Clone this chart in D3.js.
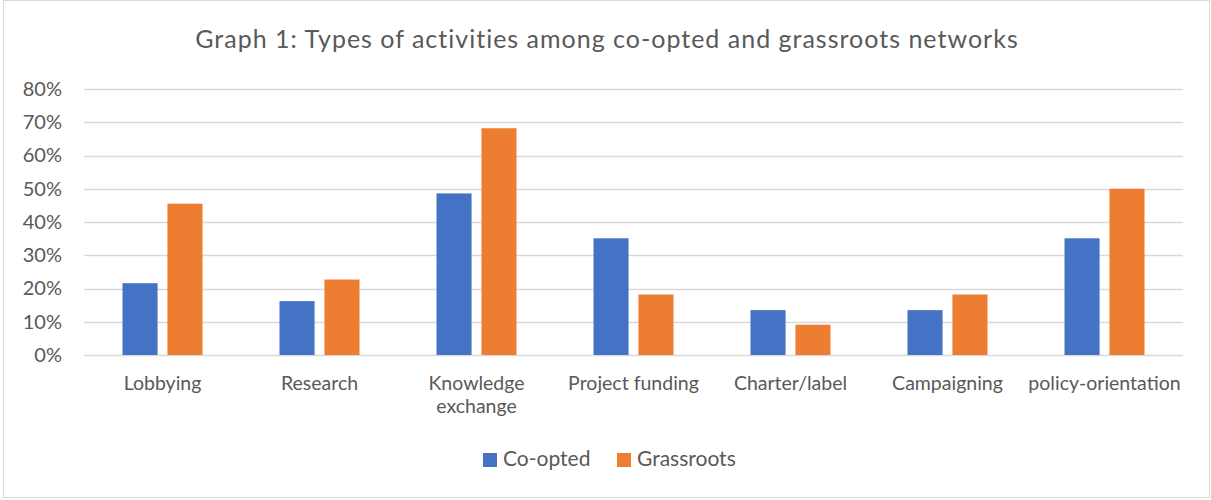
<!DOCTYPE html>
<html>
<head>
<meta charset="utf-8">
<script src="https://cdn.jsdelivr.net/npm/d3@7"></script>
<style>
  html, body { margin: 0; padding: 0; background: #fff; }
  svg { display: block; font-family: Lato, 'Open Sans', sans-serif; }
</style>
</head>
<body>
<div id="chart"></div>
<script>
// chart data
const title = 'Graph 1: Types of activities among co-opted and grassroots networks'
const categories = [
  ['Lobbying'],
  ['Research'],
  ['Knowledge', 'exchange'],
  ['Project funding'],
  ['Charter/label'],
  ['Campaigning'],
  ['policy-orientation']
]
const seriesNames = ['Co-opted', 'Grassroots']
const coopted = [0.216, 0.162, 0.486, 0.351, 0.135, 0.135, 0.351]
const grassroots = [0.455, 0.227, 0.682, 0.182, 0.091, 0.182, 0.5]
const yTicks = [0, 0.1, 0.2, 0.3, 0.4, 0.5, 0.6, 0.7, 0.8]
const colors = ['#4472C4', '#ED7D31']

const width = 1211
const height = 500
const margin = { top: 89, right: 28, bottom: 145, left: 84 }

const svg = d3.select('#chart')
  .append('svg')
  .attr('width', width)
  .attr('height', height)

// outer frame
svg.append('rect')
  .attr('x', 3.5)
  .attr('y', 0.5)
  .attr('width', width - 5)
  .attr('height', height - 3)
  .attr('fill', '#fff')
  .attr('stroke', '#D9D9D9')

svg.append('text')
  .attr('x', 607)
  .attr('y', 48)
  .attr('text-anchor', 'middle')
  .attr('fill', '#595959')
  .style('font-size', '25px')
  .style('letter-spacing', '1px')
  .text(title)

const catKeys = categories.map(d => d.join(' '))
const x0 = d3.scaleBand()
  .domain(catKeys)
  .range([margin.left, width - margin.right])
  .padding(0)

const bw = x0.bandwidth()
const clusterW = 80
const x1 = d3.scaleBand()
  .domain(seriesNames)
  .range([(bw - clusterW) / 2, (bw + clusterW) / 2])
  .paddingInner(0.22)

const y = d3.scaleLinear()
  .domain([0, 0.8])
  .range([height - margin.bottom, margin.top])

// gridlines
svg.append('g')
  .selectAll('line')
  .data(yTicks)
  .join('line')
  .attr('x1', margin.left)
  .attr('x2', width - margin.right)
  .attr('y1', d => Math.round(y(d)) + 0.5)
  .attr('y2', d => Math.round(y(d)) + 0.5)
  .attr('stroke', '#D9D9D9')
  .attr('stroke-width', 1.3)

// y axis labels
const yAxis = d3.axisLeft(y)
  .tickValues(yTicks)
  .tickFormat(d3.format('.0%'))
  .tickSize(0)
  .tickPadding(22)

svg.append('g')
  .attr('transform', `translate(${margin.left},0)`)
  .call(yAxis)
  .call(g => g.select('.domain').remove())
  .selectAll('text')
  .attr('fill', '#595959')
  .style('font-size', '20px')
  .style('font-family', 'Lato, sans-serif')

// bars
const rows = catKeys.map((k, i) => ({ key: k, values: [coopted[i], grassroots[i]] }))

const groups = svg.append('g')
  .selectAll('g')
  .data(rows)
  .join('g')
  .attr('transform', d => `translate(${x0(d.key)},0)`)

groups.selectAll('rect')
  .data(d => d.values.map((v, j) => ({ name: seriesNames[j], value: v, j })))
  .join('rect')
  .attr('x', d => x1(d.name))
  .attr('width', x1.bandwidth())
  .attr('y', d => y(d.value))
  .attr('height', d => y(0) - y(d.value))
  .attr('fill', d => colors[d.j])

// category labels
const xLabels = svg.append('g')
  .selectAll('text')
  .data(categories)
  .join('text')
  .attr('x', (d, i) => x0(catKeys[i]) + bw / 2)
  .attr('y', 390)
  .attr('text-anchor', 'middle')
  .attr('fill', '#595959')
  .style('font-size', '19.5px')

xLabels.selectAll('tspan')
  .data(d => d)
  .join('tspan')
  .attr('x', function () { return d3.select(this.parentNode).attr('x') })
  .attr('dy', (d, i) => i === 0 ? 0 : 23)
  .text(d => d)

// legend
const legendX = [483, 617]
const legend = svg.append('g')
  .selectAll('g')
  .data(seriesNames)
  .join('g')
  .attr('transform', (d, i) => `translate(${legendX[i]},453)`)

legend.append('rect')
  .attr('width', 14)
  .attr('height', 14)
  .attr('fill', (d, i) => colors[i])

legend.append('text')
  .attr('x', 20)
  .attr('y', 13)
  .attr('fill', '#595959')
  .style('font-size', '21px')
  .text(d => d)
</script>
</body>
</html>
